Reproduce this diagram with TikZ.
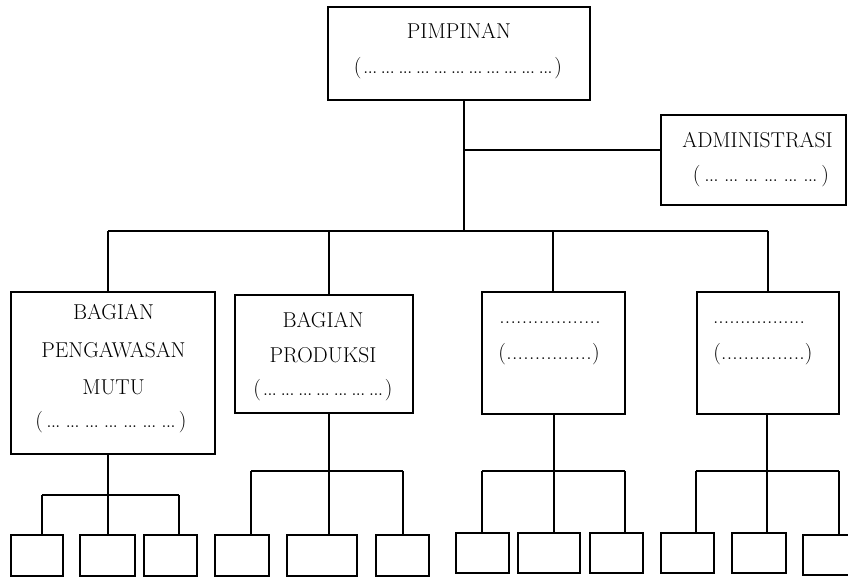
\documentclass[tikz,border=0pt]{standalone}
\newcommand\tdot{\makebox[2.4pt]{.}}
\newcommand\mydotsg[1]{\hbox to #1{\xleaders\hbox to 17.5pt{\hss\tdot\kern2pt\tdot\kern2pt\tdot\hss}\hfill}}
\newcommand\mydotsu[1]{\hbox to #1{\xleaders\hbox to 5.4pt{\hss\tdot\hss}\hfill}}
\tikzset{
  box/.style={draw, line width=2.4pt, inner sep=0pt, outer sep=0pt, fill=white},
  sbox/.style={box, line width=2.3pt},
  txt/.style={inner sep=0pt, anchor=base, font=\fontsize{21.5}{25}\selectfont},
  conn/.style={line width=2pt},
}
\begin{document}
\begin{tikzpicture}[x=1pt,y=-1pt]
\useasboundingbox (0,0) rectangle (848,577);
% main boxes
\node[box, minimum width=262pt, minimum height=93pt] (pim) at (459,53.5) {};
\node[box, minimum width=185pt, minimum height=90pt] (adm) at (753.5,160) {};
\node[box, minimum width=204pt, minimum height=162pt] (b1) at (113,373) {};
\node[box, minimum width=178pt, minimum height=118pt] (b2) at (324,354) {};
\node[box, minimum width=143pt, minimum height=122pt] (b3) at (553.5,353) {};
\node[box, minimum width=142pt, minimum height=122pt] (b4) at (768,353) {};
% texts
\node[txt] (pimA) at (459,39) {PIMPINAN};
\node[txt] (pimB) at (458,74) {(\mydotsg{193pt})};
\node[txt] (admA) at (757.5,148) {ADMINISTRASI};
\node[txt] (admB) at (761,182) {(\mydotsg{121pt})};
\node[txt] (b1A) at (113.5,319) {BAGIAN};
\node[txt] (b1B) at (113.5,357) {PENGAWASAN};
\node[txt] (b1C) at (113.5,394) {MUTU};
\node[txt] (b1D) at (111,427) {(\mydotsg{136pt})};
\node[txt] (b2A) at (323,327) {BAGIAN};
\node[txt] (b2B) at (323,362) {PRODUKSI};
\node[txt] (b2C) at (323,395) {(\mydotsg{124pt})};
\node[txt] (b3A) at (550,323) {\mydotsu{102pt}};
\node[txt] (b3B) at (549,359) {(\mydotsu{86pt})};
\node[txt] (b4A) at (759,323) {\mydotsu{92pt}};
\node[txt] (b4B) at (763,359) {(\mydotsu{84pt})};
% small boxes
\node[sbox, minimum width=52pt, minimum height=41pt] (s11) at (37,555.5) {};
\node[sbox, minimum width=55pt, minimum height=41pt] (s12) at (107.5,555.5) {};
\node[sbox, minimum width=53pt, minimum height=41pt] (s13) at (170.5,555.5) {};
\node[sbox, minimum width=54pt, minimum height=41pt] (s21) at (242,555.5) {};
\node[sbox, minimum width=70pt, minimum height=41pt] (s22) at (322,555.5) {};
\node[sbox, minimum width=53pt, minimum height=41pt] (s23) at (402.5,555.5) {};
\node[sbox, minimum width=53pt, minimum height=40pt] (s31) at (482.5,553) {};
\node[sbox, minimum width=62pt, minimum height=40pt] (s32) at (549,553) {};
\node[sbox, minimum width=53pt, minimum height=40pt] (s33) at (616.5,553) {};
\node[sbox, minimum width=53pt, minimum height=40pt] (s41) at (687.5,553) {};
\node[sbox, minimum width=54pt, minimum height=40pt] (s42) at (759,553) {};
\node[sbox, minimum width=54pt, minimum height=40pt] (s43) at (830,555) {};
% junction coordinates
\coordinate (jA) at (464,150);
\coordinate (jT) at (464,231);
\coordinate (d1) at (108,231);
\coordinate (d2) at (329,231);
\coordinate (d3) at (553,231);
\coordinate (d4) at (768,231);
\coordinate (e1) at (108,495);
\coordinate (e1a) at (42,495);
\coordinate (e1c) at (179,495);
\coordinate (e2) at (329,471);
\coordinate (e2a) at (251,471);
\coordinate (e2c) at (403,471);
\coordinate (e3) at (554,471);
\coordinate (e3a) at (482,471);
\coordinate (e3c) at (625,471);
\coordinate (e4) at (767,471);
\coordinate (e4a) at (696,471);
\coordinate (e4c) at (839,471);
% connectors
\draw[conn] (pim.south -| jT) -- (jT);
\draw[conn] (jA) -- (jA -| adm.west);
\draw[conn] (d1) -- (d4);
\draw[conn] (d1) -- (d1 |- b1.north);
\draw[conn] (d2) -- (d2 |- b2.north);
\draw[conn] (d3) -- (d3 |- b3.north);
\draw[conn] (d4) -- (d4 |- b4.north);
% group 1
\draw[conn] (b1.south -| e1) -- (e1);
\draw[conn] (e1a) -- (e1c);
\draw[conn] (e1a) -- (e1a |- s11.north);
\draw[conn] (e1) -- (e1 |- s12.north);
\draw[conn] (e1c) -- (e1c |- s13.north);
% group 2
\draw[conn] (b2.south -| e2) -- (e2);
\draw[conn] (e2a) -- (e2c);
\draw[conn] (e2a) -- (e2a |- s21.north);
\draw[conn] (e2) -- (e2 |- s22.north);
\draw[conn] (e2c) -- (e2c |- s23.north);
% group 3
\draw[conn] (b3.south -| e3) -- (e3);
\draw[conn] (e3a) -- (e3c);
\draw[conn] (e3a) -- (e3a |- s31.north);
\draw[conn] (e3) -- (e3 |- s32.north);
\draw[conn] (e3c) -- (e3c |- s33.north);
% group 4
\draw[conn] (b4.south -| e4) -- (e4);
\draw[conn] (e4a) -- (e4c);
\draw[conn] (e4a) -- (e4a |- s41.north);
\draw[conn] (e4) -- (e4 |- s42.north);
\draw[conn] (e4c) -- (e4c |- s43.north);
\end{tikzpicture}
\end{document}
